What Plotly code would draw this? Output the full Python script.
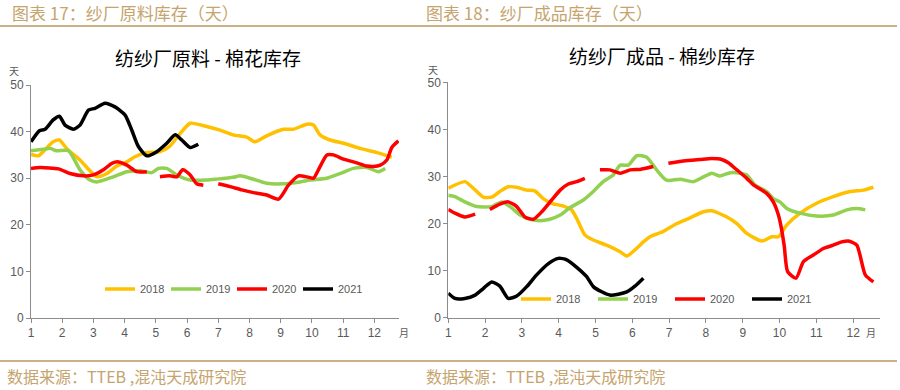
import plotly.graph_objects as go

# ---------------- data: 纺纱厂原料 - 棉花库存 (left) ----------------
months = [1, 2, 3, 4, 5, 6, 7, 8, 9, 10, 11, 12]
years = ["2018", "2019", "2020", "2021"]
colors = {"2018": "#FFC000", "2019": "#92D050", "2020": "#FF0000", "2021": "#000000"}

L18_x = [1.00, 1.23, 1.45, 1.71, 1.91, 2.14, 2.57, 3.11, 3.43, 3.75, 4.07, 4.33, 4.71, 5.13, 5.45, 5.78, 6.10,
         6.63, 7.06, 7.48, 7.91, 8.18, 8.55, 9.09, 9.41, 9.84, 10.05, 10.26, 10.58, 11.01, 11.54, 12.08, 12.56]
L18_y = [35.1, 34.8, 36.1, 37.8, 38.2, 36.4, 33.9, 30.3, 31.0, 32.6, 33.5, 34.6, 35.5, 35.7, 36.9, 39.6, 41.8,
         41.1, 40.3, 39.3, 38.8, 37.8, 39.1, 40.5, 40.5, 41.6, 41.4, 39.3, 38.2, 37.5, 36.4, 35.5, 34.5]

L19_x = [1.00, 1.39, 1.61, 1.82, 2.20, 2.57, 2.89, 3.11, 3.64, 4.07, 4.49, 4.87, 5.08, 5.35, 5.67, 6.10, 6.63,
         6.95, 7.48, 7.70, 8.02, 8.55, 9.09, 9.62, 9.94, 10.48, 10.90, 11.33, 11.76, 12.13, 12.35]
L19_y = [35.9, 36.2, 36.4, 35.9, 35.9, 31.8, 29.6, 29.2, 30.3, 31.4, 31.6, 31.2, 32.1, 32.1, 30.7, 29.6, 29.6,
         29.8, 30.2, 30.5, 30.0, 28.9, 28.8, 29.2, 29.6, 30.0, 31.0, 32.1, 32.3, 31.4, 32.1]

L20_x = [1.00, 1.29, 1.88, 2.25, 2.68, 3.00, 3.32, 3.59, 3.80, 4.07, 4.39, 4.71, None,
         5.13, 5.45, 5.67, 5.86, 6.10, 6.31, 6.52, None,
         7.00, 7.38, 7.75, 8.13, 8.55, 8.93, 9.25, 9.57, 9.89, 10.05, 10.26, 10.48, 10.69, 11.01, 11.44,
         11.76, 11.97, 12.19, 12.40, 12.56, 12.77]
L20_y = [32.1, 32.3, 32.0, 31.0, 30.5, 30.7, 31.8, 33.2, 33.5, 32.8, 31.4, 31.4, None,
         30.3, 30.5, 30.3, 31.8, 30.7, 28.8, 28.5, None,
         28.8, 28.2, 27.5, 26.9, 26.4, 25.5, 28.5, 30.5, 30.2, 30.0, 32.5, 35.0, 35.0, 34.1, 33.3,
         32.6, 32.5, 32.8, 33.9, 36.6, 38.0]

L21_x = [1.00, 1.27, 1.45, 1.71, 1.91, 2.09, 2.36, 2.57, 2.84, 3.05, 3.37, 3.69, 4.01, 4.23, 4.44, 4.71, 5.03,
         5.35, 5.62, 5.83, 6.10, 6.36]
L21_y = [37.8, 40.2, 40.5, 42.5, 43.3, 41.4, 40.5, 41.4, 44.6, 45.0, 46.1, 45.3, 43.6, 40.3, 36.8, 34.8, 35.7,
         37.5, 39.3, 38.2, 36.6, 37.3]

# ---------------- data: 纺纱厂成品 - 棉纱库存 (right) ----------------
R18_x = [1.00, 1.45, 1.68, 1.95, 2.18, 2.40, 2.63, 2.86, 3.13, 3.36, 3.58, 3.81, 4.13, 4.35, 4.53, 4.71, 4.94,
         5.30, 5.67, 5.85, 6.07, 6.30, 6.48, 6.84, 7.21, 7.57, 7.93, 8.16, 8.57, 8.84, 9.11, 9.52, 9.79, 9.97,
         10.20, 10.56, 11.01, 11.46, 11.92, 12.28, 12.55]
R18_y = [27.5, 28.9, 27.5, 25.6, 25.6, 26.8, 27.8, 27.7, 27.1, 26.9, 25.3, 24.3, 23.7, 22.9, 20.4, 17.6, 16.5,
         15.4, 14.0, 13.1, 14.4, 16.1, 17.2, 18.3, 20.0, 21.2, 22.5, 22.7, 21.4, 20.0, 17.9, 16.3, 17.2, 17.2,
         19.7, 22.2, 24.3, 25.7, 26.8, 27.1, 27.7]

R19_x = [1.00, 1.18, 1.45, 1.77, 2.18, 2.45, 2.68, 2.95, 3.22, 3.49, 3.76, 4.04, 4.31, 4.67, 4.94, 5.21, 5.48,
         5.67, 5.89, 6.12, 6.39, 6.66, 6.93, 7.30, 7.66, 7.93, 8.16, 8.38, 8.66, 8.93, 9.11, 9.33, 9.65, 9.83,
         10.01, 10.20, 10.56, 11.01, 11.46, 11.83, 12.10, 12.33]
R19_y = [26.0, 25.7, 24.6, 23.6, 23.6, 24.6, 23.6, 21.8, 20.9, 20.6, 20.9, 21.8, 23.4, 25.0, 26.8, 28.9, 30.3,
         32.4, 32.4, 34.4, 34.1, 31.4, 29.2, 29.4, 28.9, 29.9, 30.7, 30.1, 30.8, 30.7, 30.3, 28.2, 26.8, 25.3,
         24.6, 23.2, 22.2, 21.6, 21.8, 22.9, 23.2, 22.9]

R20_x = [1.00, 1.18, 1.45, 1.73, None,
         2.13, 2.40, 2.63, 2.86, 3.08, 3.31, 3.54, 3.81, 4.04, 4.26, 4.49, 4.71, None,
         5.12, 5.39, 5.67, 5.94, 6.21, 6.57, None,
         6.98, 7.39, 7.84, 8.16, 8.43, 8.61, 8.84, 9.11, 9.29, 9.65, 9.83, 9.97, 10.06, 10.13, 10.22,
         10.45, 10.65, 10.92, 11.19, 11.46, 11.69, 11.87, 12.10, 12.33, 12.55]
R20_y = [23.0, 22.2, 21.4, 22.0, None,
         23.0, 24.1, 24.6, 23.6, 21.4, 20.9, 22.5, 25.0, 27.1, 28.4, 28.9, 29.6, None,
         31.4, 31.4, 30.7, 31.4, 31.5, 32.1, None,
         32.8, 33.3, 33.6, 33.8, 33.6, 32.9, 31.4, 29.6, 28.2, 26.4, 24.6, 21.8, 18.6, 15.1, 9.8,
         8.4, 11.9, 13.3, 14.7, 15.4, 16.1, 16.3, 15.4, 9.1, 7.6]

R21_x = [1.00, 1.18, 1.45, 1.73, 1.95, 2.18, 2.40, 2.63, 2.86, 3.13, 3.40, 3.72, 3.99, 4.22, 4.49, 4.76, 4.94,
         5.17, 5.39, 5.62, 5.85, 6.07, 6.30]
R21_y = [5.2, 4.1, 4.1, 4.8, 6.2, 7.6, 6.7, 4.1, 4.6, 6.6, 9.1, 11.5, 12.6, 12.3, 10.7, 8.7, 6.6,
         5.5, 4.8, 5.0, 5.5, 6.7, 8.4]

y_ticks = [0, 10, 20, 30, 40, 50]

left_series = {"2018": (L18_x, L18_y), "2019": (L19_x, L19_y), "2020": (L20_x, L20_y), "2021": (L21_x, L21_y)}
right_series = {"2018": (R18_x, R18_y), "2019": (R19_x, R19_y), "2020": (R20_x, R20_y), "2021": (R21_x, R21_y)}

W, H = 900, 390
CJK = "Noto Sans CJK SC"
NUM = "Liberation Sans Narrow, Liberation Sans, Arial"
GOLD_TXT = "#C5A46E"
GOLD_LINE = "#B8995E"
TICK_C = "#595959"
AXIS_C = "#8C8C8C"

fig = go.Figure()
for yr in years:
    x, y = left_series[yr]
    fig.add_trace(go.Scatter(x=x, y=y, mode="lines", name=yr, xaxis="x", yaxis="y", legend="legend",
                             connectgaps=False, hoverinfo="skip",
                             line=dict(color=colors[yr], width=3.5, shape="spline", smoothing=0.6)))
for yr in years:
    x, y = right_series[yr]
    fig.add_trace(go.Scatter(x=x, y=y, mode="lines", name=yr, xaxis="x2", yaxis="y2", legend="legend2",
                             connectgaps=False, hoverinfo="skip",
                             line=dict(color=colors[yr], width=3.5, shape="spline", smoothing=0.6)))


def px_x(p):
    return p / W


def px_y(p):
    return (H - p) / H


def xaxis(domain, rng, anchor):
    return dict(domain=domain, range=rng, anchor=anchor, tickvals=months, ticktext=[str(m) for m in months],
                showline=True, linecolor=AXIS_C, linewidth=1, ticks="outside", ticklen=4, tickcolor=AXIS_C,
                tickfont=dict(family=NUM, size=12, color=TICK_C), showgrid=False, zeroline=False,
                fixedrange=True, automargin=False)


def yaxis(domain, anchor):
    return dict(domain=domain, range=[0, 50], anchor=anchor, tickvals=y_ticks,
                showline=True, linecolor=AXIS_C, linewidth=1, ticks="outside", ticklen=4, tickcolor=AXIS_C,
                tickfont=dict(family=NUM, size=12, color=TICK_C), showgrid=False, zeroline=False,
                fixedrange=True, automargin=False)


legend_common = dict(orientation="h", xanchor="left", yanchor="middle", bgcolor="rgba(0,0,0,0)",
                     font=dict(family=NUM, size=11, color=TICK_C), entrywidthmode="pixels",
                     itemclick=False, itemdoubleclick=False, tracegroupgap=0, borderwidth=0)

fig.update_layout(
    width=W, height=H, margin=dict(l=0, r=0, t=0, b=0, autoexpand=False),
    paper_bgcolor="white", plot_bgcolor="white", showlegend=True, hovermode=False,
    xaxis=xaxis([px_x(31), px_x(399)], [1, 12.79], "y"),
    yaxis=yaxis([px_y(318), px_y(85)], "x"),
    xaxis2=xaxis([px_x(448.3), px_x(880)], [1, 12.73], "y2"),
    yaxis2=yaxis([px_y(317.7), px_y(82.3)], "x2"),
    legend=dict(legend_common, x=px_x(100), y=px_y(289), entrywidth=21),
    legend2=dict(legend_common, x=px_x(516), y=px_y(299), entrywidth=32),
)

annotations = [
    dict(text="图表 17：纱厂原料库存（天）", x=px_x(10), y=px_y(13), xanchor="left", yanchor="middle",
         font=dict(family=CJK, size=17, color=GOLD_TXT)),
    dict(text="图表 18：纱厂成品库存（天）", x=px_x(424), y=px_y(13), xanchor="left", yanchor="middle",
         font=dict(family=CJK, size=17, color=GOLD_TXT)),
    dict(text="纺纱厂原料 - 棉花库存", x=px_x(208), y=px_y(57), xanchor="center", yanchor="middle",
         font=dict(family=CJK, size=19, color="#000000")),
    dict(text="纺纱厂成品 - 棉纱库存", x=px_x(662), y=px_y(55), xanchor="center", yanchor="middle",
         font=dict(family=CJK, size=19, color="#000000")),
    dict(text="天", x=px_x(14), y=px_y(70), xanchor="center", yanchor="middle",
         font=dict(family=CJK, size=10, color=TICK_C)),
    dict(text="天", x=px_x(433), y=px_y(69), xanchor="center", yanchor="middle",
         font=dict(family=CJK, size=10, color=TICK_C)),
    dict(text="月", x=px_x(404), y=px_y(332), xanchor="center", yanchor="middle",
         font=dict(family=CJK, size=10, color=TICK_C)),
    dict(text="月", x=px_x(871), y=px_y(332), xanchor="center", yanchor="middle",
         font=dict(family=CJK, size=10, color=TICK_C)),
    dict(text="数据来源：TTEB ,混沌天成研究院", x=px_x(5), y=px_y(376), xanchor="left", yanchor="middle",
         font=dict(family=CJK, size=16, color=GOLD_TXT)),
    dict(text="数据来源：TTEB ,混沌天成研究院", x=px_x(424), y=px_y(376), xanchor="left", yanchor="middle",
         font=dict(family=CJK, size=16, color=GOLD_TXT)),
]
for a in annotations:
    a.update(xref="paper", yref="paper", showarrow=False)
fig.update_layout(annotations=annotations)

fig.update_layout(shapes=[
    dict(type="line", xref="paper", yref="paper", x0=0, x1=px_x(897), y0=px_y(26), y1=px_y(26),
         line=dict(color=GOLD_LINE, width=1.5)),
    dict(type="line", xref="paper", yref="paper", x0=0, x1=px_x(897), y0=px_y(361), y1=px_y(361),
         line=dict(color=GOLD_LINE, width=1.5)),
])

fig.write_html("out.html", config={"displayModeBar": False, "staticPlot": True},
               post_script="document.body.style.margin='0';document.body.style.overflow='hidden';")
